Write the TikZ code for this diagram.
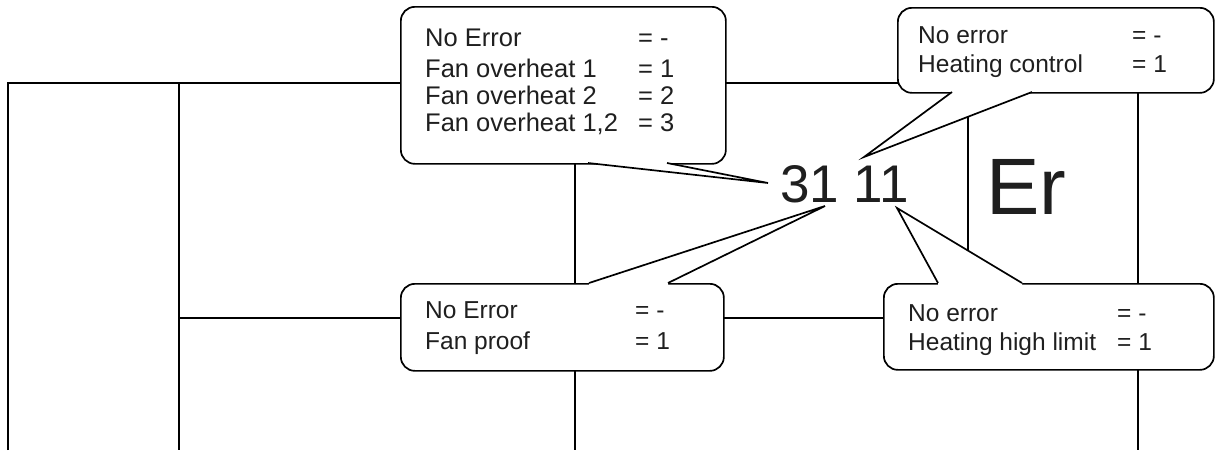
\documentclass[tikz,border=0pt]{standalone}
\usepackage{fontspec}
\setmainfont{Liberation Sans}
\usetikzlibrary{backgrounds}
\tikzset{%
  box/.style    = {shape=rectangle, rounded corners=14pt, draw, fill=white,%
                   line width=1.7pt, inner sep=0pt, anchor=north west},%
  tail/.style   = {line width=1.7pt},%
  legend/.style = {anchor=base west, inner sep=0pt, text=black!88,%
                   font=\fontsize{24.5}{27}\selectfont},%
  code/.style   = {anchor=base west, inner sep=0pt, text=black!88},%
  wire/.style   = {line width=1.7pt}%
}

\begin{document}
\begin{tikzpicture}[x=1pt,y=-1pt]
	\useasboundingbox (0,0) rectangle (1215,450);
	\coordinate (tip1) at (768,183);
	\coordinate (tip2) at (864,157);
	\coordinate (tip3) at (825,206);
	\coordinate (tip4) at (897,208);
	% callouts
	\node [box, minimum width=325pt, minimum height=157pt] (fan) at (400,6) {};
	\node [box, minimum width=316pt, minimum height=85pt] (heat) at (897,7) {};
	\node [box, minimum width=323pt, minimum height=87pt] (proof) at (400,283) {};
	\node [box, minimum width=330pt, minimum height=86pt] (limit) at (883,283) {};
	\fill [white] (588,163) -- (tip1) -- (667,163) -- (667,159) -- (588,159) -- cycle;
	\draw [tail] (588,163) -- (tip1) -- (667,163);
	\fill [white] (952,92) -- (tip2) -- (1032,92) -- (1032,88) -- (952,88) -- cycle;
	\draw [tail] (952,92) -- (tip2) -- (1032,92);
	\fill [white] (589,283) -- (tip3) -- (668,283) -- (668,287) -- (589,287) -- cycle;
	\draw [tail] (589,283) -- (tip3) -- (668,283);
	\fill [white] (938,283) -- (tip4) -- (1022,283) -- (1022,287) -- (938,287) -- cycle;
	\draw [tail] (938,283) -- (tip4) -- (1022,283);
	% texts
	\node [legend, font=\fontsize{25.5}{27}\selectfont] (fantext) at (425,46) {\begin{tabular}[t]{@{}p{213pt}@{}l@{}}
		No Error & = -\\[4pt]
		Fan overheat 1 & = 1\\
		Fan overheat 2 & = 2\\
		Fan overheat 1,2 & = 3
	\end{tabular}};
	\node [legend] (heattext) at (918,43) {\begin{tabular}[t]{@{}p{214pt}@{}l@{}}
		No error & = -\\[2pt]
		Heating control & = 1
	\end{tabular}};
	\node [legend] (prooftext) at (425,318) {\begin{tabular}[t]{@{}p{210pt}@{}l@{}}
		No Error & = -\\[4pt]
		Fan proof & = 1
	\end{tabular}};
	\node [legend] (limittext) at (908,321) {\begin{tabular}[t]{@{}p{209pt}@{}l@{}}
		No error & = -\\[2pt]
		Heating high limit & = 1
	\end{tabular}};
	\node [code, font=\fontsize{53}{60}\selectfont] (digits) at (780,202) {31 11};
	\node [code, font=\fontsize{80}{90}\selectfont] (er) at (986,214) {Er};
	% wiring behind
	\begin{scope}[on background layer]
		\coordinate (a) at (8,83);
		\coordinate (a0) at (8,450);
		\coordinate (b) at (179,83);
		\coordinate (b0) at (179,450);
		\coordinate (bm) at (179,318);
		\coordinate (c) at (575,83);
		\coordinate (cm) at (575,370);
		\coordinate (c0) at (575,450);
		\coordinate (d) at (968,83);
		\coordinate (dm) at (968,318);
		\coordinate (e) at (1138,83);
		\coordinate (em) at (1138,318);
		\coordinate (e0) at (1138,450);
		\draw [wire] (a0) -- (a) -- (e);
		\draw [wire] (b) -- (b0);
		\draw [wire] (bm) -- (em);
		\draw [wire] (c) -- (cm);
		\draw [wire, line width=2.3pt] (cm) -- (c0);
		\draw [wire] (d) -- (dm);
		\draw [wire] (e) -- (e0);
	\end{scope}
\end{tikzpicture}
\end{document}
